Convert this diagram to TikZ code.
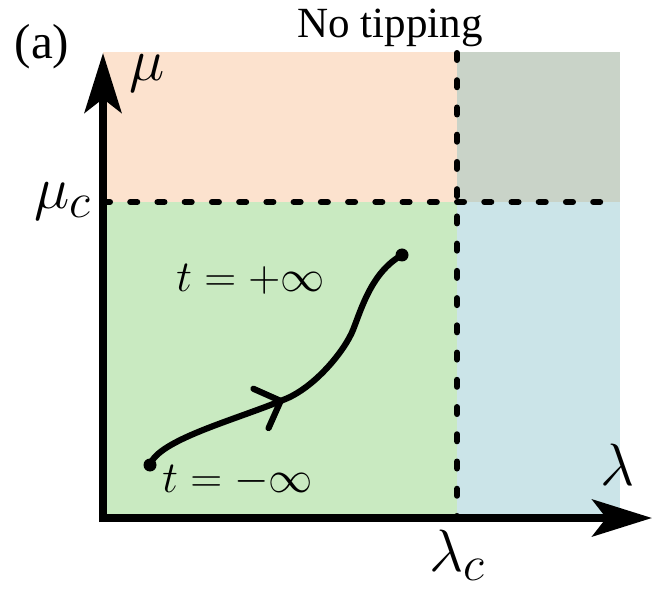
\RequirePackage{fix-cm}
\documentclass[tikz,border=0pt]{standalone}
\usepackage[no-math]{fontspec}
\setmainfont{Liberation Serif}
\usetikzlibrary{arrows.meta}
\usetikzlibrary{decorations.markings}
\usetikzlibrary{positioning}
\definecolor{peach}{RGB}{252,226,206}
\definecolor{greygreen}{RGB}{201,211,200}
\definecolor{lightgreen}{RGB}{201,234,193}
\definecolor{lightblue}{RGB}{203,228,232}
\DeclareMathSizes{34}{34}{28}{20}

\begin{document}
\begin{tikzpicture}[x=0.02cm,y=-0.02cm,
  axisline/.style={line width=4.5pt,-{Stealth[length=34pt,width=21pt,inset=8pt]}},
  boundary/.style={line width=3.4pt,line cap=round,dash pattern=on 4pt off 11.5pt},
  trajectory/.style={line width=3.5pt,line cap=round,
    postaction={decorate},
    decoration={markings,mark=at position 0.44 with {\arrow{Straight Barb[length=12pt,width=24pt,round]}}}},
  axislabel/.style={font=\fontsize{34}{38}\selectfont},
  timelabel/.style={font=\fontsize{25.2}{28}\selectfont,inner sep=0pt},
  titlelabel/.style={font=\fontsize{24.5}{28}\selectfont},
  panellabel/.style={font=\fontsize{28}{32}\selectfont}]

\useasboundingbox (0,0) rectangle (653,591);

%---------------------------------------
% Parameter plane
%---------------------------------------
\def\xmin{103}
\def\xmax{620}
\def\ymin{518}
\def\ymax{52}
\def\lc{457}   % lambda_c
\def\mc{202}   % mu_c

% Regions
\fill[peach]      (\xmin,\ymax) rectangle (\lc,\mc);
\fill[greygreen]  (\lc,\ymax)   rectangle (\xmax,\mc);
\fill[lightgreen] (\xmin,\mc)   rectangle (\lc,\ymin);
\fill[lightblue]  (\lc,\mc)     rectangle (\xmax,\ymin);

% Critical values
\draw[boundary] (\xmin,\mc) -- (\xmax,\mc);
\draw[boundary] (\lc,\ymax+1) -- (\lc,\ymin);

% Axes
\draw[axisline] (\xmin,522) -- (\xmin,53);
\draw[axisline] (99,\ymin) -- (652,\ymin);

\node[axislabel] (mu)      at (147,73)  {$\mu$};
\node[axislabel] (muc)     at (63,201)  {$\mu_c$};
\node[axislabel] (lambda)  at (618,465) {$\lambda$};
\node[axislabel] (lambdac) at (457,555) {$\lambda_c$};

%---------------------------------------
% Trajectory
%---------------------------------------
\coordinate (tminus) at (150,465);
\coordinate (tplus)  at (402,255);

\draw[trajectory] (tminus)
  .. controls (158,440) and (235,420) .. (283,400)
  .. controls (315,388) and (345,350) .. (353,330)
  .. controls (362,307) and (372,272) .. (tplus);
\fill (tminus) circle[radius=3.7pt];
\fill (tplus)  circle[radius=3.7pt];

\node[timelabel,anchor=base west] (tpluslabel)  at (176,292) {$t=+\infty$};
\node[timelabel,anchor=base west] (tminuslabel) at (162,492) {$t=-\infty$};

% Titles
\node[titlelabel] (title) at (390,28) {No tipping};
\node[panellabel] (panel) at (42,47)  {(a)};

\end{tikzpicture}
\end{document}
